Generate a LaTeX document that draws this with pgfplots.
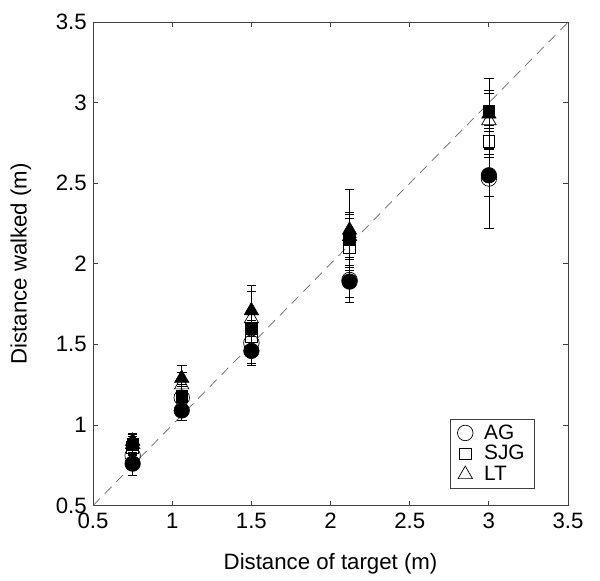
\documentclass[border=0pt]{standalone}
\usepackage{fontspec}
\setmainfont{Liberation Sans}
\usepackage{pgfplots}
\pgfplotsset{compat=1.18}
\begin{document}
\begin{tikzpicture}
\begin{axis}[
  name=main,
  scale only axis,
  width=342pt, height=348pt,
  xmin=0.5, xmax=3.5, ymin=0.5, ymax=3.5,
  xtick={0.5,1,...,3.5}, ytick={0.5,1,...,3.5},
  xticklabels={0.5,1,1.5,2,2.5,3,3.5},
  yticklabels={0.5,1,1.5,2,2.5,3,3.5},
  tick align=inside, major tick length=3.6pt,
  xtick pos=both, ytick pos=both,
  axis line style={black!75, line width=0.6pt},
  tick style={black!75, line width=0.6pt},
  /pgf/number format/assume math mode=true,
  tick label style={font=\fontsize{16}{18}\selectfont},
  xticklabel style={yshift=-2pt},
  yticklabel style={xshift=-1pt},
  label style={font=\fontsize{16}{18}\selectfont},
  xlabel={Distance of target (m)},
  ylabel={Distance walked (m)},
  xlabel style={at={(axis description cs:0.5,-0.121)}, anchor=center},
  ylabel style={at={(axis description cs:-0.152,0.5)}, anchor=center},
  legend style={at={(rel axis cs:0.93,0.035)}, anchor=south east,
    font=\fontsize{15}{17}\selectfont, draw=black!75, line width=0.6pt,
    row sep=-1pt, inner xsep=5pt, inner ysep=2pt,
    /tikz/every odd column/.append style={column sep=6pt}},
  legend cell align=left,
  clip=false,
]
\addplot[black!60, dashed, dash pattern=on 7pt off 5pt, line width=0.5pt, forget plot] coordinates {(0.5,0.5) (3.5,3.5)};
% open markers
\addplot[only marks, mark=o, mark size=5.6pt, black, line width=0.5pt,
  error bars/.cd, y dir=both, y explicit,
  error bar style={black, line width=0.5pt},
  error mark options={rotate=90, mark size=3.5pt, black}]
  coordinates {
  (0.75,0.81) +- (0,0.07)
  (1.06,1.17) +- (0,0.07)
  (1.5,1.51) +- (0,0.13)
  (2.12,1.90) +- (0,0.14)
  (3,2.53) +- (0,0.31)
  };
\addlegendentry{AG}
\addplot[only marks, mark=square, mark size=4.2pt, black, line width=0.5pt,
  error bars/.cd, y dir=both, y explicit,
  error bar style={black, line width=0.5pt},
  error mark options={rotate=90, mark size=3.5pt, black}]
  coordinates {
  (0.75,0.86) +- (0,0.05)
  (1.06,1.18) +- (0,0.06)
  (1.5,1.55) +- (0,0.10)
  (2.12,2.10) +- (0,0.18)
  (3,2.76) +- (0,0.10)
  };
\addlegendentry{SJG}
\addplot[only marks, mark=triangle, mark size=6pt, black, line width=0.5pt,
  error bars/.cd, y dir=both, y explicit,
  error bar style={black, line width=0.5pt},
  error mark options={rotate=90, mark size=3.5pt, black}]
  coordinates {
  (0.75,0.88) +- (0,0.05)
  (1.06,1.25) +- (0,0.08)
  (1.5,1.66) +- (0,0.17)
  (2.12,2.17) +- (0,0.14)
  (3,2.89) +- (0,0.17)
  };
\addlegendentry{LT}
% filled markers
\addplot[only marks, mark=*, mark size=5.6pt, black, forget plot,
  error bars/.cd, y dir=both, y explicit,
  error bar style={black, line width=0.5pt},
  error mark options={rotate=90, mark size=3.5pt, black}]
  coordinates {
  (0.75,0.76) +- (0,0.07)
  (1.06,1.09) +- (0,0.06)
  (1.5,1.46) +- (0,0.09)
  (2.12,1.89) +- (0,0.10)
  (3,2.55) +- (0,0.13)
  };
\addplot[only marks, mark=square*, mark size=4.2pt, black, forget plot,
  error bars/.cd, y dir=both, y explicit,
  error bar style={black, line width=0.5pt},
  error mark options={rotate=90, mark size=3.5pt, black}]
  coordinates {
  (0.75,0.88) +- (0,0.06)
  (1.06,1.18) +- (0,0.07)
  (1.5,1.60) +- (0,0.12)
  (2.12,2.15) +- (0,0.17)
  (3,2.95) +- (0,0.13)
  };
\addplot[only marks, mark=triangle*, mark size=6pt, black, forget plot,
  error bars/.cd, y dir=both, y explicit,
  error bar style={black, line width=0.5pt},
  error mark options={rotate=90, mark size=3.5pt, black}]
  coordinates {
  (0.75,0.90) +- (0,0.05)
  (1.06,1.29) +- (0,0.08)
  (1.5,1.71) +- (0,0.16)
  (2.12,2.21) +- (0,0.25)
  (3,2.93) +- (0,0.22)
  };
\end{axis}
\pgfresetboundingbox
\path[use as bounding box] ([shift={(-67pt,-54pt)}]main.south west) rectangle ([shift={(23pt,16pt)}]main.north east);
\end{tikzpicture}
\end{document}
